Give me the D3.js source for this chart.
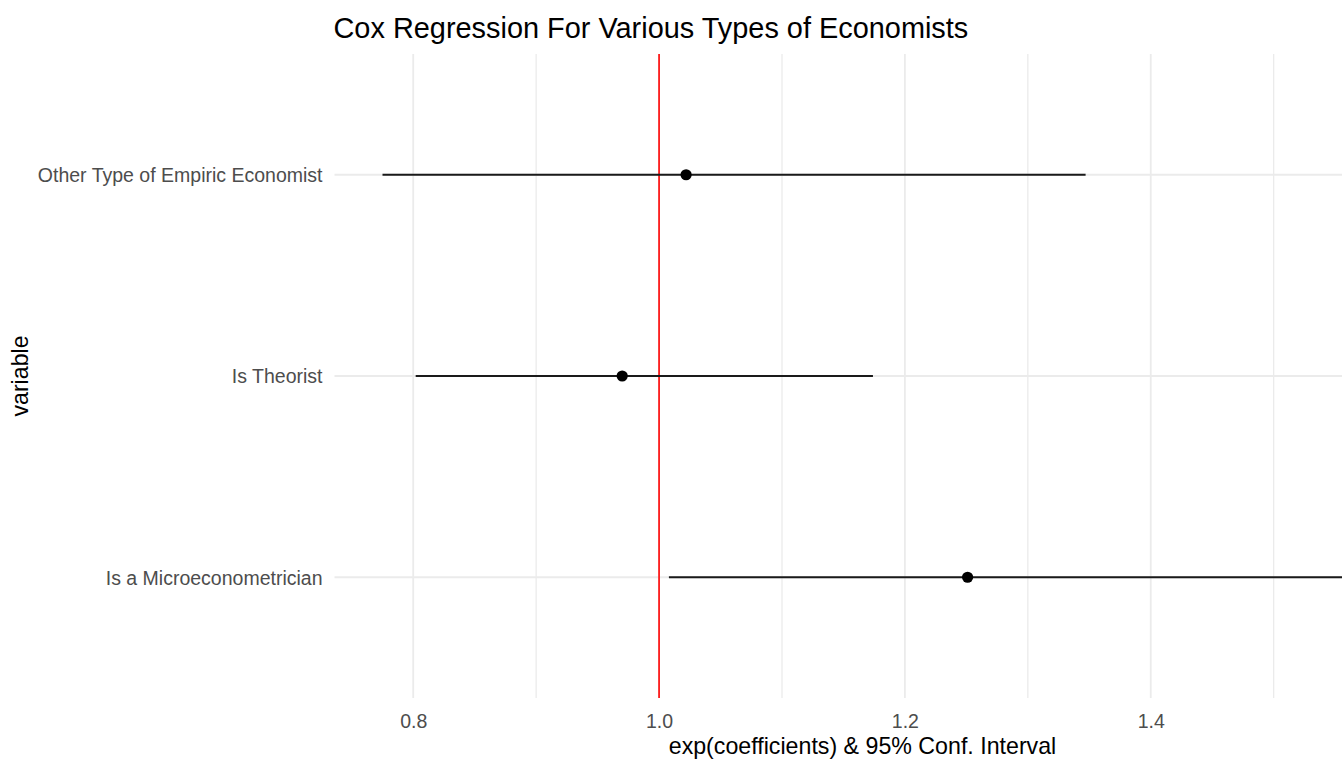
<!DOCTYPE html>
<html>
<head>
<meta charset="utf-8">
<script src="https://cdn.jsdelivr.net/npm/d3@7"></script>
<style>
  html, body { margin: 0; padding: 0; background: #fff; overflow: hidden; }
  svg { display: block; font-family: "Liberation Sans", Arial, sans-serif; }
</style>
</head>
<body>
<script>
// Hazard ratios with 95% confidence intervals, one row per economist type
const variables = ["Other Type of Empiric Economist", "Is Theorist", "Is a Microeconometrician"];
const estimate  = [1.022, 0.970, 1.251];
const lower     = [0.775, 0.802, 1.008];
const upper     = [1.347, 1.174, 1.556];
const xTicks    = [0.8, 1.0, 1.2, 1.4];
const xMinor    = [0.9, 1.1, 1.3, 1.5];
const refValue  = 1.0;

const width = 1342, height = 763;
// the plotting panel runs past the right edge of the page and is cropped there
const panel = { left: 334.5, right: 1390.5, top: 54, bottom: 698 };

const svg = d3.select("body").append("svg")
  .attr("width", width).attr("height", height);

const lo = d3.min(lower), hi = d3.max(upper), pad = (hi - lo) * 0.05;
const x = d3.scaleLinear().domain([lo - pad, hi + pad]).range([panel.left, panel.right]);
const y = d3.scalePoint().domain(variables).range([panel.top, panel.bottom]).padding(0.6);

const grid = svg.append("g");
// minor vertical grid
grid.selectAll("line.minor").data(xMinor).join("line")
  .attr("class", "minor")
  .attr("x1", d => x(d)).attr("x2", d => x(d))
  .attr("y1", panel.top).attr("y2", panel.bottom)
  .attr("stroke", "#EBEBEB").attr("stroke-width", 1.3);
// major vertical grid
grid.selectAll("line.majx").data(xTicks).join("line")
  .attr("class", "majx")
  .attr("x1", d => x(d)).attr("x2", d => x(d))
  .attr("y1", panel.top).attr("y2", panel.bottom)
  .attr("stroke", "#EBEBEB").attr("stroke-width", 1.8);
// major horizontal grid
grid.selectAll("line.majy").data(variables).join("line")
  .attr("class", "majy")
  .attr("x1", panel.left).attr("x2", panel.right)
  .attr("y1", d => y(d)).attr("y2", d => y(d))
  .attr("stroke", "#EBEBEB").attr("stroke-width", 1.8);

// x axis (tick labels only)
const xAxis = svg.append("g")
  .attr("transform", `translate(0,${panel.bottom})`)
  .call(d3.axisBottom(x).tickValues(xTicks).tickFormat(d3.format(".1f")).tickSize(0).tickPadding(0));
xAxis.select(".domain").remove();
xAxis.selectAll("text")
  .attr("y", 30).attr("dy", 0)
  .attr("fill", "#4D4D4D").style("font-size", "19.5px")
  .style("font-family", "'Liberation Sans', Arial, sans-serif");

// y axis (category labels only)
const yAxis = svg.append("g")
  .attr("transform", `translate(${panel.left},0)`)
  .call(d3.axisLeft(y).tickSize(0).tickPadding(12));
yAxis.select(".domain").remove();
yAxis.selectAll("text")
  .attr("dy", "0.35em")
  .attr("fill", "#4D4D4D").style("font-size", "19.5px")
  .style("font-family", "'Liberation Sans', Arial, sans-serif");

const rows = variables.map((v, i) => ({ v, est: estimate[i], lo: lower[i], hi: upper[i] }));

// reference line at a hazard ratio of one
svg.append("line")
  .attr("x1", x(refValue)).attr("x2", x(refValue))
  .attr("y1", panel.top).attr("y2", panel.bottom)
  .attr("stroke", "#FF0000").attr("stroke-width", 1.6);

// confidence intervals
svg.selectAll("line.ci").data(rows).join("line")
  .attr("class", "ci")
  .attr("x1", d => x(d.lo)).attr("x2", d => x(d.hi))
  .attr("y1", d => y(d.v)).attr("y2", d => y(d.v))
  .attr("stroke", "#1a1a1a").attr("stroke-width", 1.8);

// point estimates
svg.selectAll("circle.est").data(rows).join("circle")
  .attr("class", "est")
  .attr("cx", d => x(d.est)).attr("cy", d => y(d.v))
  .attr("r", 5.6).attr("fill", "#000");

// titles
svg.append("text")
  .attr("x", panel.left - 1).attr("y", 38)
  .attr("fill", "#000").style("font-size", "28.9px")
  .text("Cox Regression For Various Types of Economists");

svg.append("text")
  .attr("x", (panel.left + panel.right) / 2).attr("y", 754)
  .attr("text-anchor", "middle")
  .attr("fill", "#000").style("font-size", "23.2px")
  .text("exp(coefficients) & 95% Conf. Interval");

svg.append("text")
  .attr("transform", `translate(28,${(panel.top + panel.bottom) / 2}) rotate(-90)`)
  .attr("text-anchor", "middle")
  .attr("fill", "#000").style("font-size", "23.2px")
  .text("variable");
</script>
</body>
</html>
